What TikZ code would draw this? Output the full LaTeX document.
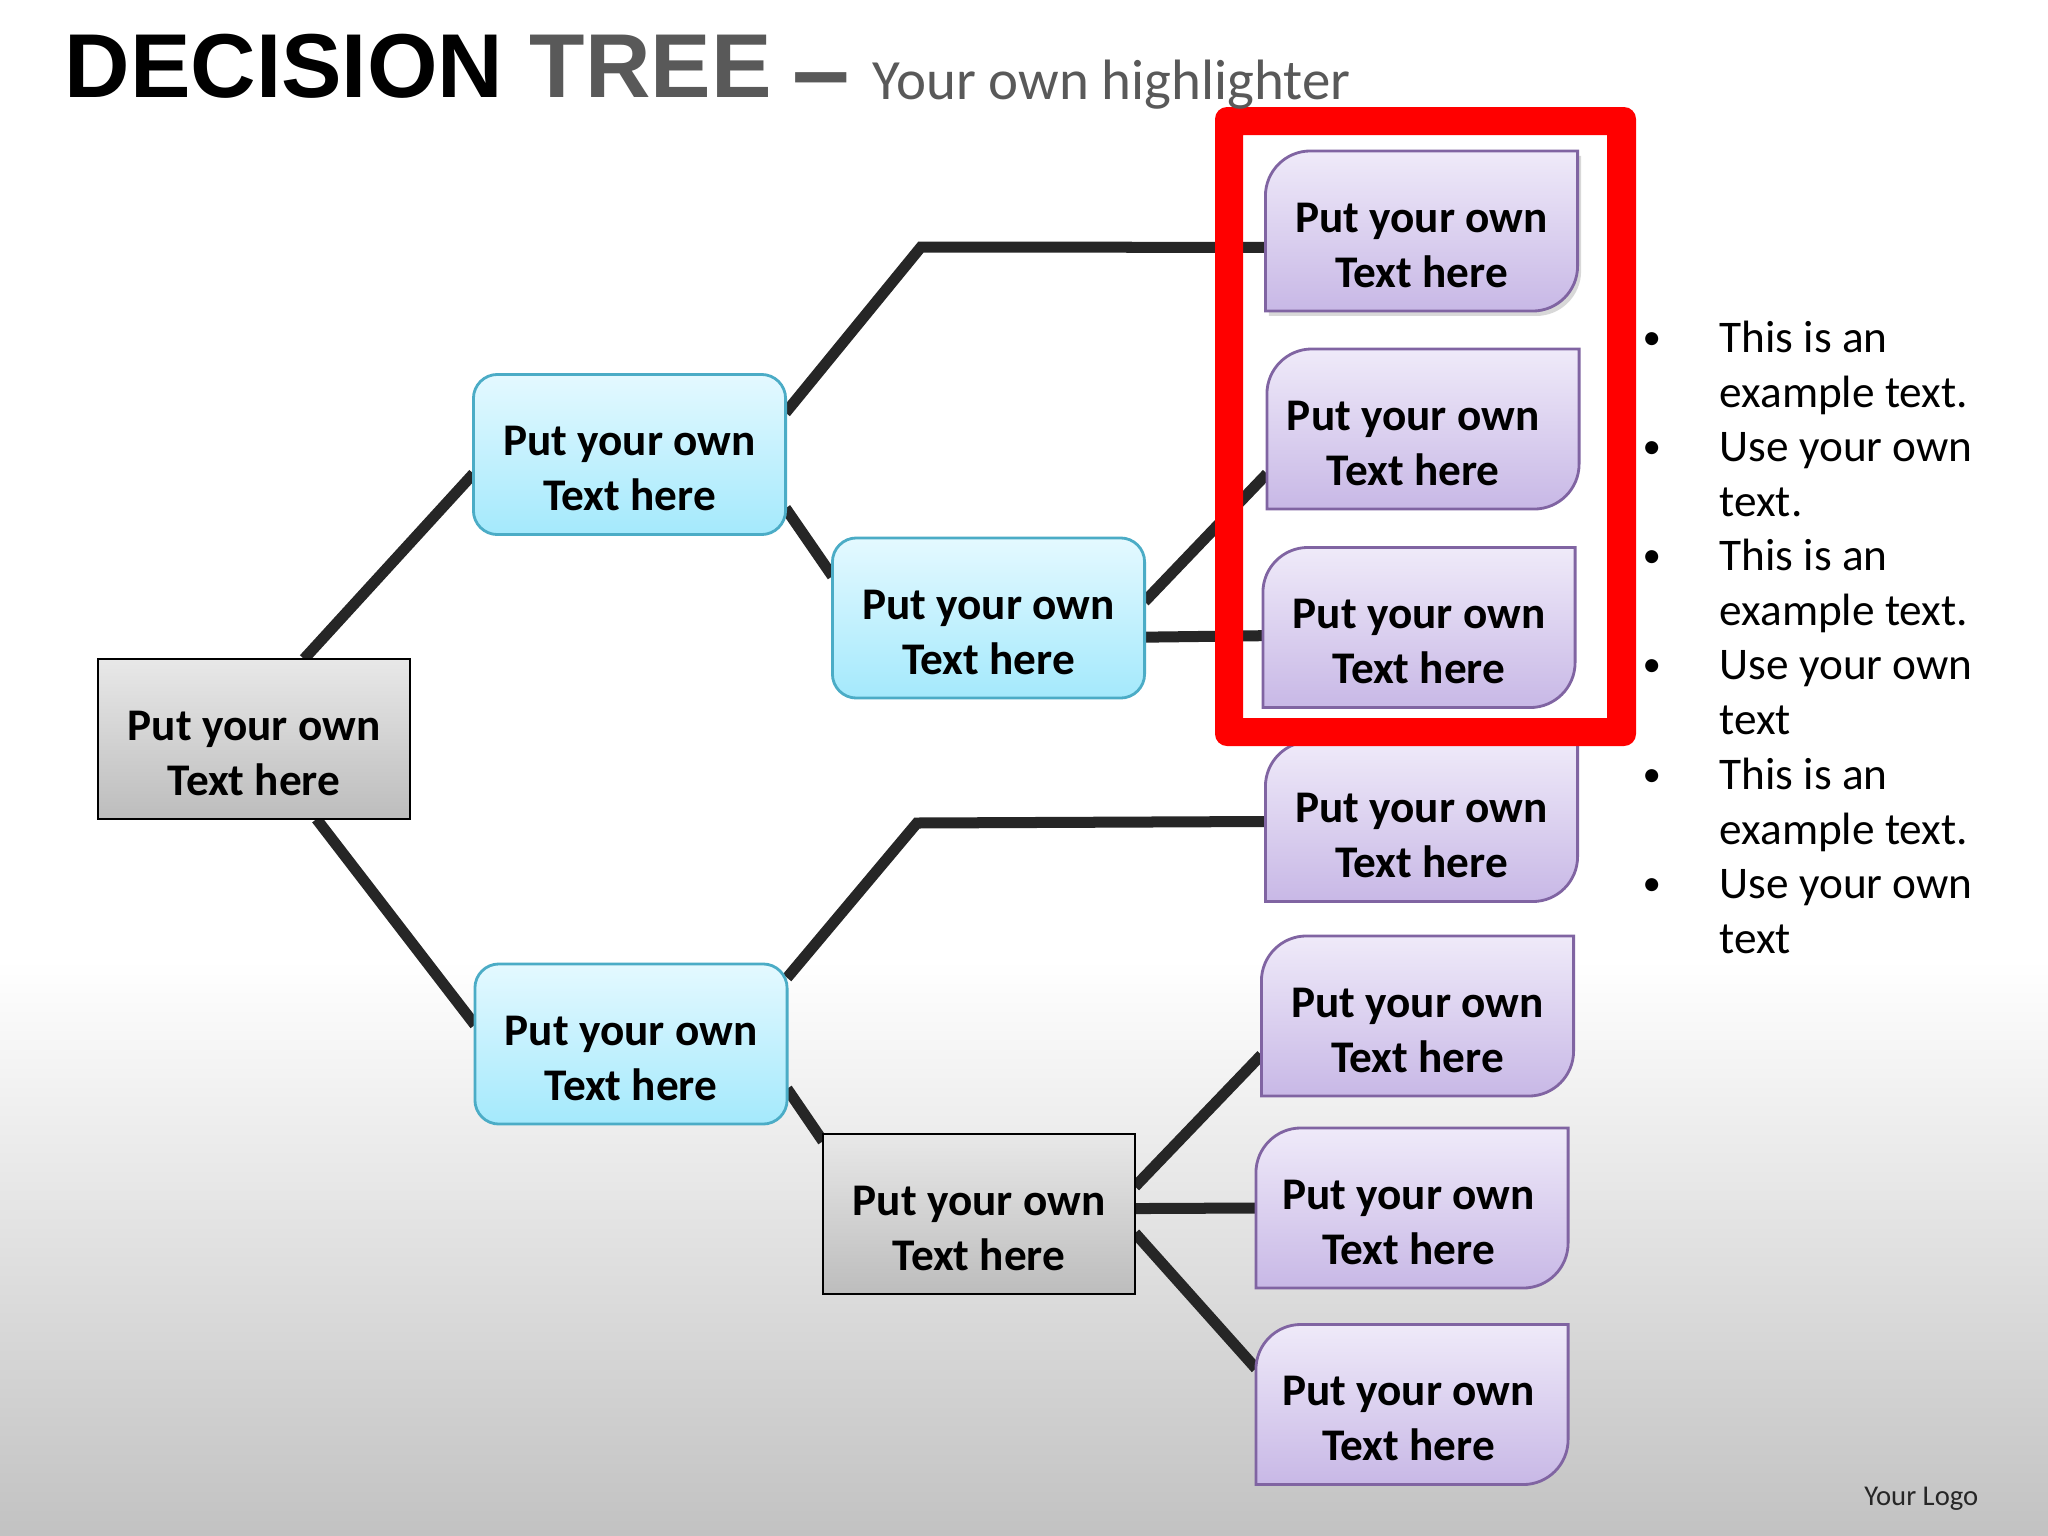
\documentclass[tikz,border=0pt]{standalone}
\usepackage{fontspec}
\setmainfont{Carlito}
\newfontfamily\arialfont{Liberation Sans}
\usepackage{tikz}
\usetikzlibrary{shadows}
\usetikzlibrary{backgrounds}
\definecolor{connc}{HTML}{262626}
\definecolor{titlegrey}{HTML}{595959}
\definecolor{bluetop}{HTML}{E4F9FF}
\definecolor{bluebot}{HTML}{A4E9FC}
\definecolor{blueline}{HTML}{4BACC6}
\definecolor{purpletop}{HTML}{EFEAF9}
\definecolor{purplebot}{HTML}{C8B8E6}
\definecolor{purpleline}{HTML}{8064A2}
\newdimen\leafxd
\newdimen\leafyd
\makeatletter
\pgfdeclareshape{leafbox}{
	\inheritsavedanchors[from=rectangle]
	\inheritanchorborder[from=rectangle]
	\inheritanchor[from=rectangle]{center}
	\inheritanchor[from=rectangle]{north}
	\inheritanchor[from=rectangle]{south}
	\inheritanchor[from=rectangle]{east}
	\inheritanchor[from=rectangle]{west}
	\backgroundpath{
		\southwest \pgf@xa=\pgf@x \pgf@ya=\pgf@y
		\northeast \pgf@xb=\pgf@x \pgf@yb=\pgf@y
		\pgf@xc=\pgf@xa \advance\pgf@xc by 12.8pt
		\pgf@yc=\pgf@yb \advance\pgf@yc by -12.8pt
		\leafxd=\pgf@xb \advance\leafxd by -12.8pt
		\leafyd=\pgf@ya \advance\leafyd by 12.8pt
		\pgfpathmoveto{\pgfqpoint{\pgf@xc}{\pgf@yb}}
		\pgfpathlineto{\pgfqpoint{\pgf@xb}{\pgf@yb}}
		\pgfpathlineto{\pgfqpoint{\pgf@xb}{\leafyd}}
		\pgfpatharc{0}{-90}{12.8pt}
		\pgfpathlineto{\pgfqpoint{\pgf@xa}{\pgf@ya}}
		\pgfpathlineto{\pgfqpoint{\pgf@xa}{\pgf@yc}}
		\pgfpatharc{180}{90}{12.8pt}
		\pgfpathclose
	}
}
\makeatother
\begin{document}
\begin{tikzpicture}[x=0.01cm, y=-0.01cm,
		box/.style={minimum width=3.12cm, minimum height=1.6cm, inner sep=0pt, outer sep=0pt, align=center,
			font=\fontsize{12.87}{15.6}\selectfont\bfseries, text height=32pt, text depth=0pt},
		greybox/.style={box, rectangle, draw=black, line width=0.7pt, top color=black!9, bottom color=black!26},
		bluebox/.style={box, rectangle, rounded corners=0.24cm, draw=blueline, line width=0.8pt, top color=bluetop, bottom color=bluebot},
		purplebox/.style={box, leafbox, draw=purpleline, line width=0.8pt, top color=purpletop, bottom color=purplebot},
		conn/.style={draw=connc, line width=0.11cm},
		bullettext/.style={anchor=base west, inner sep=0pt, align=left, font=\fontsize{12.87}{15.55}\selectfont},
		titletext/.style={anchor=base west, inner sep=0pt, font=\arialfont\bfseries\fontsize{25.8}{30}\selectfont},
		]
		\useasboundingbox (0,0) rectangle (2048,1536);

		\node[greybox] (gr1) at (254,739) {Put your own\\Text here};
		\node[bluebox] (bl1) at (629.5,454.5) {Put your own\\Text here};
		\node[bluebox] (bl2) at (988.5,618) {Put your own\\Text here};
		\node[bluebox] (bl3) at (631,1044) {Put your own\\Text here};
		\node[greybox] (gr2) at (979,1214) {Put your own\\Text here};

		\node[purplebox, drop shadow={shadow xshift=1pt, shadow yshift=-1.4pt, opacity=0.3}] (pu1) at (1421.5,231) {Put your own\\Text here};
		\node[purplebox] (pu2) at (1423,429) {Put your own\hspace*{5.6pt}\\Text here\hspace*{5.6pt}};
		\node[purplebox] (pu3) at (1419,627.5) {Put your own\\Text here};
		\node[purplebox] (pu4) at (1421.5,821.5) {Put your own\\Text here};
		\node[purplebox] (pu5) at (1417.5,1016) {Put your own\\Text here};
		\node[purplebox] (pu6) at (1412,1208) {Put your own\hspace*{2pt}\\Text here\hspace*{2pt}};
		\node[purplebox] (pu7) at (1412,1404.5) {Put your own\hspace*{2pt}\\Text here\hspace*{2pt}};

		\coordinate (bend1) at (921,247);
		\coordinate (bend2) at (917,823);
		\begin{pgfonlayer}{background}
		\fill[white] (0,0) rectangle (2048,960);
		\shade[top color=white, bottom color=black!24] (0,960) rectangle (2048,1536);
		\draw[conn] (gr1.58) -- (bl1.187);
		\draw[conn] (gr1.308) -- (bl3.173);
		\draw[conn] (bl1.15) -- (bend1) -- (pu1.186);
		\draw[conn] (bl1.-19) -- (bl2.165);
		\draw[conn] (bl2.6) -- (pu2.196);
		\draw[conn] (bl2.-7) -- (pu3.183.4);
		\draw[conn] (bl3.23) -- (bend2) -- (pu4.180.5);
		\draw[conn] (bl3.-16) -- (gr2.155);
		\draw[conn] (gr2.10) -- (pu5.194);
		\draw[conn] (gr2.2) -- (pu6.180);
		\draw[conn] (gr2.-7) -- (pu7.167);
		\end{pgfonlayer}

		\fill[red, even odd rule, rounded corners=0.12cm] (1215,107) rectangle (1636,746) [sharp corners] (1243,135) rectangle (1607,718);

		\node[titletext] (title1) at (64,97) {DECISION};
		\node[titletext, text=titlegrey] (title2) at (529,97) {TREE};
		\node[titletext, text=titlegrey, font=\arialfont\bfseries\fontsize{29.4}{30}\selectfont] (title3) at (792,105) {–};
		\node[anchor=base west, inner sep=0pt, text=titlegrey, font=\fontsize{16.18}{19}\selectfont] (subtitle) at (872,99) {Your own highlighter};

		\foreach \i/\ypos/\txt in {1/353/{This is an\\example text.}, 2/462/{Use your own\\text.}, 3/571/{This is an\\example text.}, 4/680/{Use your own\\text}, 5/790/{This is an\\example text.}, 6/899/{Use your own\\text}}{
			\node[bullettext, font=\fontsize{10.5}{12}\selectfont] (bul\i) at (1642,\ypos-4) {•};
			\node[bullettext] (item\i) at (1719,\ypos+54) {\txt};
		}

		\node[anchor=east, inner sep=0pt, text=black!85, font=\fontsize{8.15}{10}\selectfont] (logo) at (1979,1499) {Your Logo};
\end{tikzpicture}
\end{document}
